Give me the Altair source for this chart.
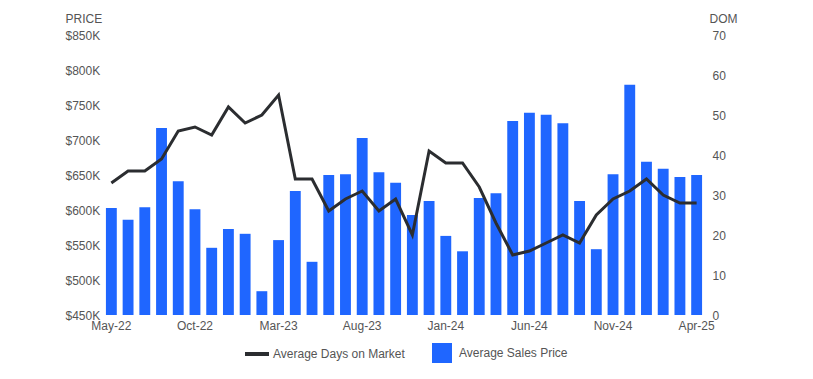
import altair as alt
import pandas as pd

months = ["May-22", "Jun-22", "Jul-22", "Aug-22", "Sep-22", "Oct-22", "Nov-22", "Dec-22",
          "Jan-23", "Feb-23", "Mar-23", "Apr-23", "May-23", "Jun-23", "Jul-23", "Aug-23",
          "Sep-23", "Oct-23", "Nov-23", "Dec-23", "Jan-24", "Feb-24", "Mar-24", "Apr-24",
          "May-24", "Jun-24", "Jul-24", "Aug-24", "Sep-24", "Oct-24", "Nov-24", "Dec-24",
          "Jan-25", "Feb-25", "Mar-25", "Apr-25"]
price_k = [603, 586, 604, 717, 641, 601, 546, 573, 566, 484, 557, 627, 526, 650, 651, 703,
           654, 639, 593, 613, 563, 541, 617, 624, 727, 739, 736, 724, 613, 544, 651, 779,
           669, 659, 647, 650]
dom = [33, 36, 36, 39, 46, 47, 45, 52, 48, 50, 55, 34, 34, 26, 29, 31, 26, 29, 20, 41,
       38, 38, 32, 23, 15, 16, 18, 20, 18, 25, 29, 31, 34, 30, 28, 28]
x_labels = ["May-22", "Oct-22", "Mar-23", "Aug-23", "Jan-24", "Jun-24", "Nov-24", "Apr-25"]
price_ticks = [450000, 500000, 550000, 600000, 650000, 700000, 750000, 800000, 850000]
dom_ticks = [0, 10, 20, 30, 40, 50, 60, 70]

df = pd.DataFrame({
    "month": months,
    "price": [p * 1000 for p in price_k],
    "dom": dom,
    "bar_series": ["Average Sales Price"] * len(months),
    "line_series": ["Average Days on Market"] * len(months),
})

FONT = "Liberation Sans"
TXT = "#555555"
BLUE = "#1f66ff"
DARK = "#2b2d30"

x_enc = alt.X(
    "month:N", sort=months,
    scale=alt.Scale(paddingInner=0.35, paddingOuter=0.175),
    axis=alt.Axis(values=x_labels, labelAngle=0, ticks=False, domain=False, grid=False,
                  labelPadding=5, title=None, labelFontSize=12, labelColor=TXT,
                  labelFont=FONT),
)

bars = alt.Chart(df).mark_bar().encode(
    x=x_enc,
    y=alt.Y("price:Q",
            scale=alt.Scale(domain=[450000, 850000], zero=False, nice=False),
            axis=alt.Axis(values=price_ticks, labelExpr='"$" + datum.value/1000 + "K"',
                          title="PRICE", titleAngle=0, titleX=-38, titleY=-17,
                          titleAlign="left", titleBaseline="middle", titleFontSize=12,
                          titleFontWeight="normal", titleColor=TXT, titleFont=FONT,
                          labelFontSize=12, labelColor=TXT, labelFont=FONT,
                          labelAlign="left", labelPadding=38, labelBaseline="middle",
                          ticks=False, domain=False, grid=False)),
    y2=alt.datum(450000),
    fill=alt.Fill("bar_series:N", scale=alt.Scale(range=[BLUE]),
                  legend=alt.Legend(orient="none", legendX=329, legendY=308, title=None,
                                    symbolType="square", symbolSize=400,
                                    symbolStrokeWidth=0, labelFontSize=12,
                                    labelColor=TXT, labelFont=FONT, labelOffset=7,
                                    padding=0)),
)

line = alt.Chart(df).mark_line(strokeWidth=3).encode(
    x=alt.X("month:N", sort=months, bandPosition=0.5),
    y=alt.Y("dom:Q",
            scale=alt.Scale(domain=[0, 70], nice=False),
            axis=alt.Axis(values=dom_ticks, orient="right", title="DOM", titleAngle=0,
                          titleX=4, titleY=-17, titleAlign="left", titleBaseline="middle",
                          titleFontSize=12, titleFontWeight="normal", titleColor=TXT,
                          titleFont=FONT, labelFontSize=12, labelColor=TXT,
                          labelFont=FONT, labelAlign="left", labelPadding=7,
                          labelBaseline="middle", ticks=False, domain=False,
                          grid=False)),
    stroke=alt.Stroke("line_series:N", scale=alt.Scale(range=[DARK]),
                      legend=alt.Legend(orient="none", legendX=140, legendY=305,
                                        title=None, symbolType="stroke",
                                        symbolSize=576, symbolStrokeWidth=4,
                                        labelFontSize=12, labelColor=TXT,
                                        labelFont=FONT, labelOffset=2, padding=0)),
)

chart = alt.layer(bars, line).resolve_scale(y="independent").properties(
    width=602, height=280,
    autosize=alt.AutoSizeParams(type="none"),
    padding={"left": 95, "top": 27, "right": 100, "bottom": 50},
    background="white",
).configure_view(stroke=None, strokeWidth=0)

chart.save("out.html", embed_options={"renderer": "svg", "actions": False})
